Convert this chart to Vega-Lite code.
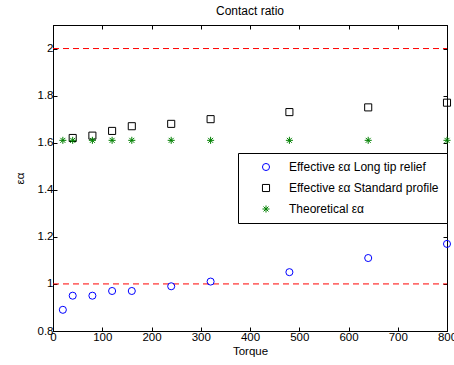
{
  "$schema": "https://vega.github.io/schema/vega-lite/v6.json",
  "width": 394,
  "height": 306,
  "autosize": {"type": "none"},
  "padding": {"left": 53, "top": 25, "right": 7, "bottom": 34},
  "background": "white",
  "title": {"text": "Contact ratio", "font": "Liberation Sans", "fontSize": 12, "fontWeight": "normal", "color": "black", "offset": 7},
  "config": {
    "view": {"stroke": "black", "strokeWidth": 1},
    "axis": {
      "grid": false,
      "domainColor": "black",
      "tickColor": "black",
      "tickSize": -4,
      "labelColor": "black",
      "labelFont": "Liberation Sans",
      "labelFontSize": 11.5,
      "labelPadding": 4,
      "labelFlush": false,
      "labelOverlap": false,
      "titleFont": "Liberation Sans",
      "titleFontSize": 11.5,
      "titleFontWeight": "normal",
      "titleColor": "black"
    },
    "legend": {
      "orient": "none",
      "legendX": 185,
      "legendY": 128,
      "strokeColor": "black",
      "fillColor": "white",
      "padding": 8,
      "labelFont": "Liberation Sans",
      "labelFontSize": 12,
      "labelColor": "black",
      "symbolOffset": 14,
      "labelOffset": 17,
      "rowPadding": 9,
      "symbolSize": 50,
      "symbolStrokeWidth": 1
    }
  },
  "layer": [
    {
      "data": {"values": [{"level": 1}, {"level": 2}]},
      "mark": {"type": "rule", "color": "#ff0000", "strokeDash": [6, 4], "strokeWidth": 1},
      "encoding": {
        "x": {"datum": 0, "type": "quantitative", "scale": {"domain": [0, 800], "nice": false, "zero": false}, "axis": {"orient": "top", "labels": false, "title": null, "values": [0, 100, 200, 300, 400, 500, 600, 700, 800]}},
        "x2": {"datum": 800},
        "y": {"field": "level", "type": "quantitative", "scale": {"domain": [0.8, 2.1], "nice": false, "zero": false}, "axis": {"orient": "right", "labels": false, "title": null, "values": [0.8, 1, 1.2, 1.4, 1.6, 1.8, 2]}}
      }
    },
    {
      "data": {
        "values": [
          {"Torque": 20, "ratio": 0.89, "series": "Effective εα Long tip relief"},
          {"Torque": 40, "ratio": 0.95, "series": "Effective εα Long tip relief"},
          {"Torque": 80, "ratio": 0.95, "series": "Effective εα Long tip relief"},
          {"Torque": 120, "ratio": 0.97, "series": "Effective εα Long tip relief"},
          {"Torque": 160, "ratio": 0.97, "series": "Effective εα Long tip relief"},
          {"Torque": 240, "ratio": 0.99, "series": "Effective εα Long tip relief"},
          {"Torque": 320, "ratio": 1.01, "series": "Effective εα Long tip relief"},
          {"Torque": 480, "ratio": 1.05, "series": "Effective εα Long tip relief"},
          {"Torque": 640, "ratio": 1.11, "series": "Effective εα Long tip relief"},
          {"Torque": 800, "ratio": 1.17, "series": "Effective εα Long tip relief"},
          {"Torque": 40, "ratio": 1.62, "series": "Effective εα Standard profile"},
          {"Torque": 80, "ratio": 1.63, "series": "Effective εα Standard profile"},
          {"Torque": 120, "ratio": 1.65, "series": "Effective εα Standard profile"},
          {"Torque": 160, "ratio": 1.67, "series": "Effective εα Standard profile"},
          {"Torque": 240, "ratio": 1.68, "series": "Effective εα Standard profile"},
          {"Torque": 320, "ratio": 1.70, "series": "Effective εα Standard profile"},
          {"Torque": 480, "ratio": 1.73, "series": "Effective εα Standard profile"},
          {"Torque": 640, "ratio": 1.75, "series": "Effective εα Standard profile"},
          {"Torque": 800, "ratio": 1.77, "series": "Effective εα Standard profile"},
          {"Torque": 20, "ratio": 1.61, "series": "Theoretical  εα"},
          {"Torque": 40, "ratio": 1.61, "series": "Theoretical  εα"},
          {"Torque": 80, "ratio": 1.61, "series": "Theoretical  εα"},
          {"Torque": 120, "ratio": 1.61, "series": "Theoretical  εα"},
          {"Torque": 160, "ratio": 1.61, "series": "Theoretical  εα"},
          {"Torque": 240, "ratio": 1.61, "series": "Theoretical  εα"},
          {"Torque": 320, "ratio": 1.61, "series": "Theoretical  εα"},
          {"Torque": 480, "ratio": 1.61, "series": "Theoretical  εα"},
          {"Torque": 640, "ratio": 1.61, "series": "Theoretical  εα"},
          {"Torque": 800, "ratio": 1.61, "series": "Theoretical  εα"}
        ]
      },
      "mark": {"type": "point", "filled": false, "strokeWidth": 1, "size": 50, "clip": false, "opacity": 1},
      "encoding": {
        "x": {"field": "Torque", "type": "quantitative", "scale": {"domain": [0, 800], "nice": false, "zero": false}, "axis": {"orient": "bottom", "title": "Torque", "titlePadding": 3, "values": [0, 100, 200, 300, 400, 500, 600, 700, 800]}},
        "y": {"field": "ratio", "type": "quantitative", "scale": {"domain": [0.8, 2.1], "nice": false, "zero": false}, "axis": {"orient": "left", "title": "εα", "titlePadding": 12, "format": "~g", "values": [0.8, 1, 1.2, 1.4, 1.6, 1.8, 2]}},
        "shape": {
          "field": "series", "type": "nominal",
          "scale": {"domain": ["Effective εα Long tip relief", "Effective εα Standard profile", "Theoretical  εα"], "range": ["circle", "square", "M-1,0L1,0M0,-1L0,1M-0.7,-0.7L0.7,0.7M-0.7,0.7L0.7,-0.7"]},
          "legend": {"title": null}
        },
        "color": {
          "field": "series", "type": "nominal",
          "scale": {"domain": ["Effective εα Long tip relief", "Effective εα Standard profile", "Theoretical  εα"], "range": ["#0000ff", "#000000", "#008000"]},
          "legend": {"title": null}
        }
      }
    }
  ],
  "resolve": {"axis": {"x": "independent", "y": "independent"}}
}
